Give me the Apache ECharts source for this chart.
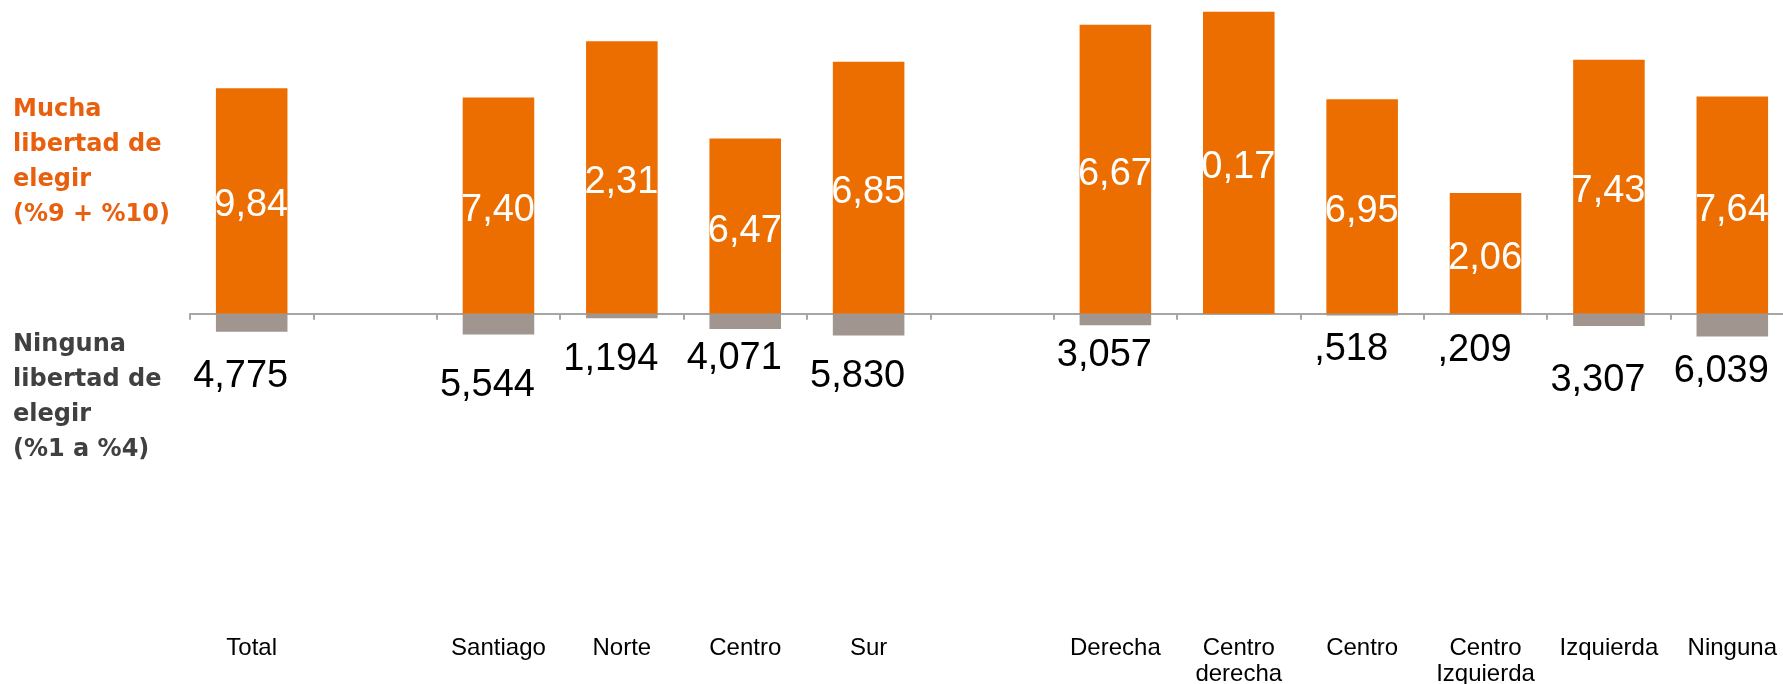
<!DOCTYPE html>
<html>
<head>
<meta charset="utf-8">
<script src="https://cdn.jsdelivr.net/npm/echarts@6/dist/echarts.min.js"></script>
<style>
  html, body { margin: 0; padding: 0; background: #fff; }
  #chart { width: 1783px; height: 684px; }
</style>
</head>
<body>
<div id="chart"></div>
<script>
// categorias (los huecos vacios separan los grupos)
var categories = ['Total', '', 'Santiago', 'Norte', 'Centro', 'Sur', '',
  'Derecha', 'Centro\nderecha', 'Centro', 'Centro\nIzquierda', 'Izquierda', 'Ninguna'];
// Mucha libertad de elegir (%9 + %10)
var muchaValues = [59.84, null, 57.40, 72.31, 46.47, 66.85, null,
  76.67, 80.17, 56.95, 32.06, 67.43, 57.64];
// Ninguna libertad de elegir (%1 a %4)
var ningunaValues = [4.775, null, 5.544, 1.194, 4.071, 5.830, null,
  3.057, null, 0.518, 0.209, 3.307, 6.039];

// ajuste manual de la altura de las etiquetas grises (px bajo el eje)
var ningunaLabelDy = [63, 0, 72, 46, 45, 63, 0, 42, 0, 36, 37, 67, 58];

var chart = echarts.init(document.getElementById('chart'));

var option = {
  backgroundColor: '#fff',
  animation: false,
  title: [
    {
      text: 'Mucha\nlibertad de\nelegir\n(%9 + %10)',
      left: 13,
      top: 92,
      padding: 0,
      textStyle: {
        color: '#E8600E',
        fontFamily: 'DejaVu Sans',
        fontWeight: 'bold',
        fontSize: 24,
        lineHeight: 35
      }
    },
    {
      text: 'Ninguna\nlibertad de\nelegir\n(%1 a %4)',
      left: 13,
      top: 327,
      padding: 0,
      textStyle: {
        color: '#404040',
        fontFamily: 'DejaVu Sans',
        fontWeight: 'bold',
        fontSize: 24,
        lineHeight: 35
      }
    }
  ],
  grid: {
    left: 190,
    width: 1604,
    top: 1,
    height: 388,
    outerBoundsMode: 'none'
  },
  xAxis: {
    type: 'category',
    data: categories,
    axisLine: {
      onZero: true,
      lineStyle: { color: '#A6A6A6', width: 2 }
    },
    axisTick: {
      show: true,
      interval: 0,
      length: 6,
      lineStyle: { color: '#A6A6A6', width: 2 }
    },
    axisLabel: {
      interval: 0,
      margin: 246,
      verticalAlign: 'top',
      color: '#000',
      fontFamily: '"Liberation Sans Narrow", "Liberation Sans", Arial',
      fontSize: 24,
      lineHeight: 26
    }
  },
  yAxis: {
    type: 'value',
    show: false,
    min: -20,
    max: 83,
    splitLine: { show: false }
  },
  series: [
    {
      name: 'Mucha libertad de elegir',
      type: 'bar',
      barWidth: '58%',
      barGap: '-100%',
      data: muchaValues,
      itemStyle: { color: '#EC6E00' },
      label: {
        show: true,
        position: 'inside',
        offset: [-11, 5],
        color: '#fff',
        textBorderWidth: 0,
        fontFamily: '"Liberation Sans", Arial',
        fontSize: 38,
        formatter: function (p) {
          return p.value.toFixed(2).replace('.', ',');
        }
      }
    },
    {
      name: 'Ninguna libertad de elegir',
      type: 'bar',
      barWidth: '58%',
      data: ningunaValues.map(function (v, i) {
        if (v === null) return null;
        return {
          value: -v,
          label: { position: ['50%', ningunaLabelDy[i]] }
        };
      }),
      itemStyle: { color: '#A0958F' },
      label: {
        show: true,
        align: 'center',
        verticalAlign: 'middle',
        offset: [-11, 0],
        color: '#000',
        textBorderWidth: 0,
        fontFamily: '"Liberation Sans", Arial',
        fontSize: 38,
        formatter: function (p) {
          // 0,518 se muestra como ,518
          return Math.abs(p.value).toFixed(3).replace('.', ',').replace(/^0/, '');
        }
      }
    }
  ]
};

chart.setOption(option);
</script>
</body>
</html>
